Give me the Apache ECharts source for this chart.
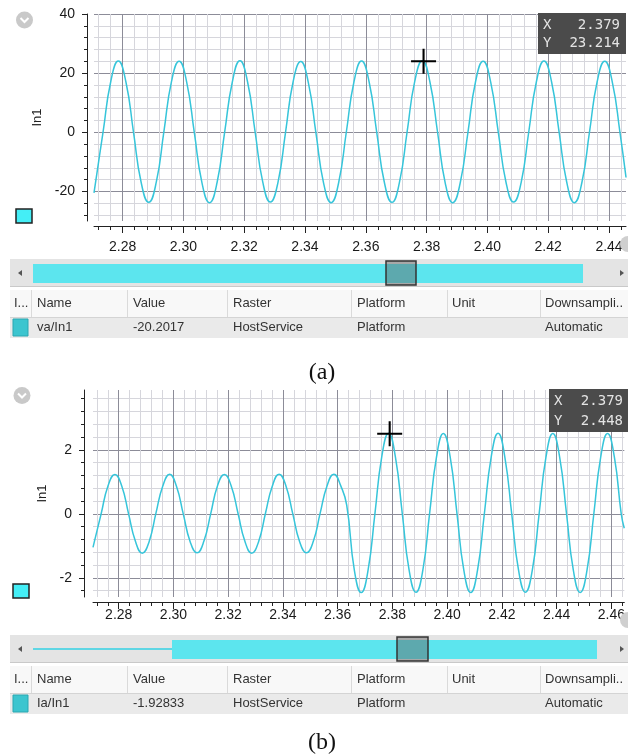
<!DOCTYPE html>
<html><head><meta charset="utf-8">
<script src="https://cdn.jsdelivr.net/npm/echarts@6/dist/echarts.min.js"></script>
<style>html,body{margin:0;padding:0;background:#fff;}#c{width:628px;height:756px;}</style>
</head><body><div id="c"></div>
<script>
// ---------------- data ----------------
// (a) va/In1 voltage trace
const timeA = [2.2706, 2.2711, 2.2736, 2.2761, 2.2786, 2.2811, 2.2836, 2.2861, 2.2886,
  2.2911, 2.2936, 2.2961, 2.2986, 2.3011, 2.3036, 2.3061, 2.3086,
  2.3111, 2.3136, 2.3161, 2.3186, 2.3211, 2.3236, 2.3261, 2.3286,
  2.3311, 2.3336, 2.3361, 2.3386, 2.3411, 2.3436, 2.3461, 2.3486,
  2.3511, 2.3536, 2.3561, 2.3586, 2.3611, 2.3636, 2.3661, 2.3686,
  2.3711, 2.3736, 2.3761, 2.3786, 2.3811, 2.3836, 2.3861, 2.3886,
  2.3911, 2.3936, 2.3961, 2.3986, 2.4011, 2.4036, 2.4061, 2.4086,
  2.4111, 2.4136, 2.4161, 2.4186, 2.4211, 2.4236, 2.4261, 2.4286,
  2.4311, 2.4336, 2.4361, 2.4386, 2.4411, 2.4436, 2.4456];
const valueA = [-20.5, -17.0, 0.2, 17.1, 24.1, 17.0, 0.0, -16.9, -23.7,
  -16.8, 0.3, 17.2, 24.0, 16.9, -0.1, -17.0, -23.8,
  -16.9, 0.2, 17.0, 24.2, 17.1, 0.1, -16.8, -23.6,
  -17.0, 0.0, 17.1, 23.9, 16.8, -0.2, -17.1, -23.8,
  -16.9, 0.1, 17.0, 24.1, 17.0, 0.0, -16.9, -23.7,
  -16.8, 0.2, 17.2, 24.2, 17.0, 0.1, -17.0, -23.8,
  -16.9, 0.0, 17.1, 24.0, 16.9, -0.1, -16.8, -23.6,
  -17.0, 0.1, 17.0, 24.1, 17.1, 0.0, -16.9, -23.8,
  -16.9, 0.2, 17.1, 24.0, 16.9, 0.0, -15.3];
// (b) Ia/In1 current trace
const timeB = [2.2706, 2.2711, 2.2736, 2.2761, 2.2786, 2.2811, 2.2836, 2.2861, 2.2886,
  2.2911, 2.2936, 2.2961, 2.2986, 2.3011, 2.3036, 2.3061, 2.3086,
  2.3111, 2.3136, 2.3161, 2.3186, 2.3211, 2.3236, 2.3261, 2.3286,
  2.3311, 2.3336, 2.3361, 2.3386, 2.3411, 2.3436, 2.3461, 2.3486,
  2.3511, 2.3536, 2.3561, 2.3586, 2.3611, 2.3633, 2.3661, 2.3686,
  2.3711, 2.3736, 2.3761, 2.3786, 2.3811, 2.3836, 2.3861, 2.3886,
  2.3911, 2.3936, 2.3961, 2.3986, 2.4011, 2.4036, 2.4061, 2.4086,
  2.4111, 2.4136, 2.4161, 2.4186, 2.4211, 2.4236, 2.4261, 2.4286,
  2.4311, 2.4336, 2.4361, 2.4386, 2.4411, 2.4436, 2.4461, 2.4486,
  2.4511, 2.4536, 2.4561, 2.4586, 2.4611, 2.4636, 2.4647];
const valueB = [-1.05, -0.87, 0.01, 0.88, 1.23, 0.87, 0.00, -0.86, -1.23,
  -0.87, 0.02, 0.87, 1.24, 0.86, -0.01, -0.87, -1.22,
  -0.86, 0.00, 0.88, 1.23, 0.87, 0.01, -0.86, -1.23,
  -0.87, 0.01, 0.86, 1.24, 0.87, 0.00, -0.87, -1.22,
  -0.86, 0.02, 0.87, 1.24, 0.88, 0.27, -1.77, -2.46,
  -1.76, 0.00, 1.78, 2.52, 1.77, 0.01, -1.76, -2.45,
  -1.77, 0.02, 1.77, 2.51, 1.78, 0.00, -1.77, -2.46,
  -1.76, 0.01, 1.78, 2.52, 1.76, -0.01, -1.77, -2.45,
  -1.77, 0.00, 1.77, 2.51, 1.77, 0.01, -1.76, -2.46,
  -1.76, 0.01, 1.77, 2.51, 1.77, 0.00, -0.45];

const xTicksA = [2.28, 2.30, 2.32, 2.34, 2.36, 2.38, 2.40, 2.42, 2.44];
const xTicksB = [2.28, 2.30, 2.32, 2.34, 2.36, 2.38, 2.40, 2.42, 2.44, 2.46];
const yTicksA = [-20, 0, 20, 40];
const yTicksB = [-2, 0, 2];
const xRangeA = [2.2706, 2.44559];
const xRangeB = [2.2706, 2.46473];
const yRangeA = [-30, 40];
const yRangeB = [-2.6, 3.87];

const cursorA = [2.379, 24.0];
const cursorB = [2.379, 2.5];
const cursorTextA = ['2.379', '23.214'];
const cursorTextB = ['2.379', '2.448'];

const tableHeader = ['I...', 'Name', 'Value', 'Raster', 'Platform', 'Unit', 'Downsampli..'];
const tableRowA = ['', 'va/In1', '-20.2017', 'HostService', 'Platform', '', 'Automatic'];
const tableRowB = ['', 'Ia/In1', '-1.92833', 'HostService', 'Platform', '', 'Automatic'];
const captions = ['(a)', '(b)'];
const axisName = 'In1';

// ---------------- helpers ----------------
const SANS = '"Liberation Sans", Arial, sans-serif';
const LINE = '#36c5da';
function minorValues(lo, hi, step, every) {
  const out = [];
  for (let k = Math.ceil(lo / step - 1e-9); k <= Math.floor(hi / step + 1e-9); k++) {
    if (k % every !== 0) out.push(Math.round(k * step * 10000) / 10000);
  }
  return out;
}
function xAxes(g, range, majors, labelMargin) {
  return [
    { type: 'value', gridIndex: g, min: range[0], max: range[1], position: 'bottom', offset: 5,
      axisLine: { show: false, onZero: false },
      axisTick: { show: true, customValues: minorValues(range[0], range[1], 0.004, 5), length: 4, lineStyle: { color: '#222' } },
      axisLabel: { show: false },
      splitLine: { show: true, lineStyle: { color: '#d6d6dc', width: 1 } } },
    { type: 'value', gridIndex: g, min: range[0], max: range[1], position: 'bottom', offset: 5,
      axisLine: { show: true, onZero: false, lineStyle: { color: '#222', width: 1 } },
      axisTick: { show: true, customValues: majors, length: 7, lineStyle: { color: '#222' } },
      axisLabel: { show: true, customValues: majors, formatter: v => v.toFixed(2), fontSize: 14, color: '#1a1a1a', fontFamily: SANS, margin: labelMargin },
      splitLine: { show: true, lineStyle: { color: '#8c8c98', width: 1 } } }
  ];
}
function yAxes(g, range, majors, minorStep, offset, nameGap) {
  return [
    { type: 'value', gridIndex: g, min: range[0], max: range[1], position: 'left', offset: offset,
      axisLine: { show: false, onZero: false },
      axisTick: { show: true, customValues: minorValues(range[0], range[1], minorStep, 5), length: 3, lineStyle: { color: '#222' } },
      axisLabel: { show: false },
      splitLine: { show: true, lineStyle: { color: '#d6d6dc', width: 1 } } },
    { type: 'value', gridIndex: g, min: range[0], max: range[1], position: 'left', offset: offset,
      name: axisName, nameLocation: 'middle', nameRotate: 90, nameGap: nameGap,
      nameTextStyle: { fontSize: 13, color: '#222', fontFamily: SANS },
      axisLine: { show: true, onZero: false, lineStyle: { color: '#222', width: 1 } },
      axisTick: { show: true, customValues: majors, length: 5, lineStyle: { color: '#222' } },
      axisLabel: { show: true, customValues: majors, fontSize: 14, color: '#1a1a1a', fontFamily: SANS, margin: 12 },
      splitLine: { show: true, lineStyle: { color: '#8c8c98', width: 1 } } }
  ];
}
const CROSS = 'path://M11,0 L13,0 L13,24 L11,24 Z M0,11 L24,11 L24,13 L0,13 Z';

// ---------------- non-chart UI (icons, overview strip, table, captions) ----------------
const graphics = [];
function txt(x, y, text, font, fill, align) {
  graphics.push({ type: 'text', x: x, y: y, z: 10,
    style: { text: text, font: font, fill: fill, align: align || 'left', verticalAlign: 'middle',
             textAlign: align || 'left', textVerticalAlign: 'middle' } });
}
function rect(x, y, w, h, fill, stroke, lw) {
  graphics.push({ type: 'rect', shape: { x: x, y: y, width: w, height: h }, z: 5,
    style: { fill: fill, stroke: stroke || null, lineWidth: lw || 0 } });
}
function icon(cx, cy) {
  graphics.push({ type: 'circle', shape: { cx: cx, cy: cy, r: 8.5 }, z: 5, style: { fill: '#c9c9c9' } });
  graphics.push({ type: 'polyline', shape: { points: [[cx - 4, cy - 2], [cx, cy + 2], [cx + 4, cy - 2]] }, z: 6,
    style: { stroke: '#fff', lineWidth: 2, fill: null } });
}
function tooltipBox(x, y, w, h, vals, rightX) {
  rect(x, y, w, h, '#4b4b4b');
  const f = '14px "DejaVu Sans Mono", monospace';
  txt(x + 5, y + h * 0.29, 'X', f, '#e4e4e4');
  txt(x + 5, y + h * 0.75, 'Y', f, '#e4e4e4');
  txt(rightX, y + h * 0.29, vals[0], f, '#e4e4e4', 'right');
  txt(rightX, y + h * 0.75, vals[1], f, '#e4e4e4', 'right');
}
function panel(dy, row, partial, box, captionY, caption) {
  // overview strip
  rect(10, 259 + dy, 618, 28, '#e4e4e4');
  rect(10, 286 + dy, 618, 1, '#c9c9c9');
  graphics.push({ type: 'polygon', shape: { points: [[18, 273 + dy], [22, 270 + dy], [22, 276 + dy]] }, z: 6, style: { fill: '#555' } });
  graphics.push({ type: 'polygon', shape: { points: [[620, 270 + dy], [624, 273 + dy], [620, 276 + dy]] }, z: 6, style: { fill: '#555' } });
  if (partial) {
    rect(33, 272 + dy, partial[0] - 33, 2, '#5fd6e4');
    rect(partial[0], 264 + dy, partial[1] - partial[0], 19, '#5ce5ee');
  } else {
    rect(33, 264 + dy, 550, 19, '#5ce5ee');
  }
  graphics.push({ type: 'rect', shape: { x: box[0], y: 261 + dy, width: box[1] - box[0], height: 24 }, z: 7,
    style: { fill: 'rgba(95,95,95,0.45)', stroke: '#333', lineWidth: 1.5 } });
  // table
  rect(10, 290 + dy, 618, 27, '#f8f8f8');
  rect(10, 317 + dy, 618, 1, '#d4d4d4');
  [31, 127, 227, 351, 447, 540].forEach(function (sx) { rect(sx, 290 + dy, 1, 27, '#dadada'); });
  rect(10, 318 + dy, 618, 20, '#eaeaea');
  rect(13, 319 + dy, 15, 17, '#3cc5cf', '#2aa7b1', 1);
  const cols = [14, 37, 133, 233, 357, 452, 545];
  const f = '13px ' + SANS;
  tableHeader.forEach(function (t, i) { txt(cols[i], 303 + dy, t, f, '#333'); });
  row.forEach(function (t, i) { if (t) txt(cols[i], 327 + dy, t, f, '#333'); });
  txt(322, captionY, caption, '24px "Liberation Serif", "Times New Roman", serif', '#111', 'center');
}

icon(24.5, 20);
icon(22, 395.5);
graphics.push({ type: 'circle', shape: { cx: 628, cy: 244, r: 8 }, z: 1, style: { fill: '#cfcfcf' } });
graphics.push({ type: 'circle', shape: { cx: 628, cy: 620, r: 8 }, z: 1, style: { fill: '#cfcfcf' } });
rect(16, 209, 16, 14, '#44eef6', '#222', 1.5);
rect(13, 584, 16, 14, '#44eef6', '#222', 1.5);
tooltipBox(538, 13, 88, 41, cursorTextA, 620);
tooltipBox(549, 389, 79, 43, cursorTextB, 623);
panel(0, tableRowA, null, [386, 416], 373, captions[0]);
panel(376, tableRowB, [172, 597], [397, 428], 743, captions[1]);

// ---------------- chart ----------------
const chart = echarts.init(document.getElementById('c'));
chart.setOption({
  animation: false,
  backgroundColor: '#ffffff',
  grid: [
    { left: 94, top: 14, width: 532, height: 207 },
    { left: 93, top: 390, width: 534, height: 207 }
  ],
  xAxis: [].concat(xAxes(0, xRangeA, xTicksA, 14), xAxes(1, xRangeB, xTicksB, 6)),
  yAxis: [].concat(yAxes(0, yRangeA, yTicksA, 4, 7, 37), yAxes(1, yRangeB, yTicksB, 0.4, 9, 31)),
  graphic: graphics,
  series: [
    { type: 'line', xAxisIndex: 1, yAxisIndex: 1, data: timeA.map((t, i) => [t, valueA[i]]),
      symbol: 'none', smooth: 0.5, lineStyle: { color: LINE, width: 1.5 }, z: 3, silent: true },
    { type: 'line', xAxisIndex: 3, yAxisIndex: 3, data: timeB.map((t, i) => [t, valueB[i]]),
      symbol: 'none', smooth: 0.5, lineStyle: { color: LINE, width: 1.5 }, z: 3, silent: true },
    { type: 'scatter', xAxisIndex: 1, yAxisIndex: 1, data: [cursorA], symbol: CROSS, symbolSize: 25,
      itemStyle: { color: '#000', opacity: 1 }, z: 6, silent: true, clip: false },
    { type: 'scatter', xAxisIndex: 3, yAxisIndex: 3, data: [cursorB], symbol: CROSS, symbolSize: 25,
      itemStyle: { color: '#000', opacity: 1 }, z: 6, silent: true, clip: false }
  ]
});
</script>
</body></html>
